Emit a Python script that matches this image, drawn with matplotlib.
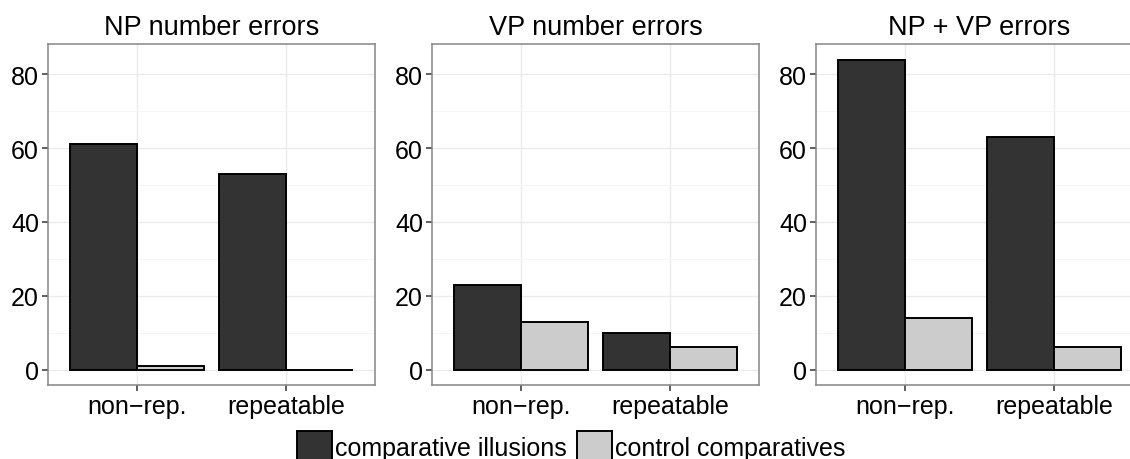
import matplotlib
matplotlib.use("Agg")
import matplotlib.pyplot as plt
import numpy as np
from matplotlib.patches import Patch
from matplotlib.ticker import MultipleLocator

plt.rcParams['font.family'] = ['Liberation Sans', 'DejaVu Sans']

categories = ["non\u2212rep.", "repeatable"]
panel_titles = ["NP number errors", "VP number errors", "NP + VP errors"]
illusions = [[61, 53], [23, 10], [84, 63]]
controls = [[1, 0], [13, 6], [14, 6]]
series_labels = ["comparative illusions", "control comparatives"]
yticks = [0, 20, 40, 60, 80]

W, H = 1130, 460
fig = plt.figure(figsize=(W / 100, H / 100), dpi=100)

panel_lefts = [48, 432, 816]
panel_width = 327
top, bottom = 45, 386

fill_dark = "#333333"
fill_light = "#CCCCCC"
bw = 0.45

for i, left in enumerate(panel_lefts):
    ax = fig.add_axes([left / W, 1 - bottom / H, panel_width / W, (bottom - top) / H])
    x = np.arange(1, len(categories) + 1)
    ax.set_axisbelow(True)
    ax.bar(x - bw / 2, illusions[i], width=bw, color=fill_dark, edgecolor="black", linewidth=1.4, zorder=3)
    ax.bar(x + bw / 2, controls[i], width=bw, color=fill_light, edgecolor="black", linewidth=1.4, zorder=3)
    ax.set_xlim(0.4, 2.6)
    ax.set_ylim(-4.2, 88.2)
    ax.set_xticks(x)
    ax.set_xticklabels(categories)
    ax.set_yticks(yticks)
    ax.yaxis.set_minor_locator(MultipleLocator(10))
    ax.grid(True, which="major", color="#EBEBEB", linewidth=1.0, zorder=0)
    ax.grid(True, which="minor", axis="y", color="#F5F5F5", linewidth=0.7, zorder=0)
    ax.tick_params(axis="both", which="major", labelsize=18, length=4.5, width=1.1,
                   color="#333333", labelcolor="black", pad=2)
    ax.tick_params(axis="y", which="minor", length=0)
    for s in ax.spines.values():
        s.set_color("#858585")
        s.set_linewidth(1.1)
    ax.set_title(panel_titles[i], fontsize=19.5, pad=7)

handles = [Patch(facecolor=fill_dark, edgecolor="black", linewidth=1.4),
           Patch(facecolor=fill_light, edgecolor="black", linewidth=1.4)]
fig.legend(handles, series_labels, loc="center", bbox_to_anchor=(571 / W, 1 - 448 / H),
           ncol=2, frameon=False, fontsize=18, handlelength=1.4, handleheight=1.6,
           handletextpad=0.12, columnspacing=0.4, borderpad=0, borderaxespad=0)

fig.savefig("out.png", dpi=100)
